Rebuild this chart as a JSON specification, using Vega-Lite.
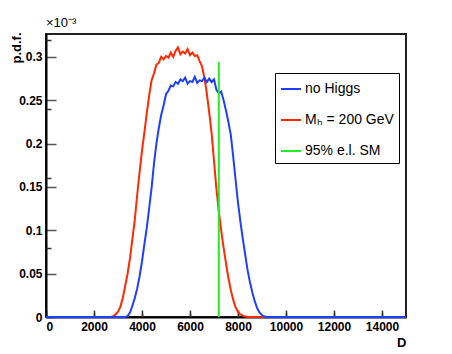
{
  "$schema": "https://vega.github.io/schema/vega-lite/v6.json",
  "width": 360,
  "height": 283,
  "autosize": {"type": "none"},
  "padding": {"left": 46, "top": 34, "right": 46, "bottom": 37},
  "background": "white",
  "config": {
    "view": {"stroke": "#222222", "strokeWidth": 2},
    "font": "Liberation Sans"
  },
  "title": {"text": "×10⁻³", "anchor": "start", "frame": "group", "offset": 2, "fontSize": 13, "fontWeight": "normal", "font": "Liberation Sans", "color": "black"},
  "datasets": {
    "hist": [
      {"series": "red", "D": 0, "pdf": 0},
      {"series": "red", "D": 2700, "pdf": 0},
      {"series": "red", "D": 2800, "pdf": 0.001},
      {"series": "red", "D": 2900, "pdf": 0.003},
      {"series": "red", "D": 3000, "pdf": 0.006},
      {"series": "red", "D": 3100, "pdf": 0.012},
      {"series": "red", "D": 3200, "pdf": 0.022},
      {"series": "red", "D": 3300, "pdf": 0.036},
      {"series": "red", "D": 3400, "pdf": 0.05},
      {"series": "red", "D": 3500, "pdf": 0.068},
      {"series": "red", "D": 3600, "pdf": 0.09},
      {"series": "red", "D": 3700, "pdf": 0.112},
      {"series": "red", "D": 3800, "pdf": 0.141},
      {"series": "red", "D": 3900, "pdf": 0.167},
      {"series": "red", "D": 4000, "pdf": 0.192},
      {"series": "red", "D": 4100, "pdf": 0.213},
      {"series": "red", "D": 4200, "pdf": 0.235},
      {"series": "red", "D": 4300, "pdf": 0.256},
      {"series": "red", "D": 4400, "pdf": 0.273},
      {"series": "red", "D": 4500, "pdf": 0.281},
      {"series": "red", "D": 4600, "pdf": 0.291},
      {"series": "red", "D": 4700, "pdf": 0.293},
      {"series": "red", "D": 4800, "pdf": 0.3},
      {"series": "red", "D": 4900, "pdf": 0.297},
      {"series": "red", "D": 5000, "pdf": 0.301},
      {"series": "red", "D": 5100, "pdf": 0.299},
      {"series": "red", "D": 5200, "pdf": 0.305},
      {"series": "red", "D": 5300, "pdf": 0.3},
      {"series": "red", "D": 5400, "pdf": 0.307},
      {"series": "red", "D": 5500, "pdf": 0.311},
      {"series": "red", "D": 5600, "pdf": 0.303},
      {"series": "red", "D": 5700, "pdf": 0.306},
      {"series": "red", "D": 5800, "pdf": 0.304},
      {"series": "red", "D": 5900, "pdf": 0.309},
      {"series": "red", "D": 6000, "pdf": 0.302},
      {"series": "red", "D": 6100, "pdf": 0.305},
      {"series": "red", "D": 6200, "pdf": 0.301},
      {"series": "red", "D": 6300, "pdf": 0.302},
      {"series": "red", "D": 6400, "pdf": 0.295},
      {"series": "red", "D": 6500, "pdf": 0.289},
      {"series": "red", "D": 6600, "pdf": 0.276},
      {"series": "red", "D": 6700, "pdf": 0.258},
      {"series": "red", "D": 6800, "pdf": 0.236},
      {"series": "red", "D": 6900, "pdf": 0.212},
      {"series": "red", "D": 7000, "pdf": 0.18},
      {"series": "red", "D": 7100, "pdf": 0.148},
      {"series": "red", "D": 7200, "pdf": 0.122},
      {"series": "red", "D": 7300, "pdf": 0.1},
      {"series": "red", "D": 7400, "pdf": 0.08},
      {"series": "red", "D": 7500, "pdf": 0.062},
      {"series": "red", "D": 7600, "pdf": 0.045},
      {"series": "red", "D": 7700, "pdf": 0.031},
      {"series": "red", "D": 7800, "pdf": 0.02},
      {"series": "red", "D": 7900, "pdf": 0.011},
      {"series": "red", "D": 8000, "pdf": 0.006},
      {"series": "red", "D": 8100, "pdf": 0.003},
      {"series": "red", "D": 8200, "pdf": 0.0015},
      {"series": "red", "D": 8300, "pdf": 0.0005},
      {"series": "red", "D": 8400, "pdf": 0},
      {"series": "red", "D": 15000, "pdf": 0},
      {"series": "blue", "D": 0, "pdf": 0},
      {"series": "blue", "D": 3300, "pdf": 0},
      {"series": "blue", "D": 3400, "pdf": 0.001},
      {"series": "blue", "D": 3500, "pdf": 0.005},
      {"series": "blue", "D": 3600, "pdf": 0.013},
      {"series": "blue", "D": 3700, "pdf": 0.022},
      {"series": "blue", "D": 3800, "pdf": 0.033},
      {"series": "blue", "D": 3900, "pdf": 0.047},
      {"series": "blue", "D": 4000, "pdf": 0.064},
      {"series": "blue", "D": 4100, "pdf": 0.084},
      {"series": "blue", "D": 4200, "pdf": 0.103},
      {"series": "blue", "D": 4300, "pdf": 0.126},
      {"series": "blue", "D": 4400, "pdf": 0.149},
      {"series": "blue", "D": 4500, "pdf": 0.177},
      {"series": "blue", "D": 4600, "pdf": 0.2},
      {"series": "blue", "D": 4700, "pdf": 0.218},
      {"series": "blue", "D": 4800, "pdf": 0.233},
      {"series": "blue", "D": 4900, "pdf": 0.244},
      {"series": "blue", "D": 5000, "pdf": 0.257},
      {"series": "blue", "D": 5100, "pdf": 0.261},
      {"series": "blue", "D": 5200, "pdf": 0.267},
      {"series": "blue", "D": 5300, "pdf": 0.266},
      {"series": "blue", "D": 5400, "pdf": 0.271},
      {"series": "blue", "D": 5500, "pdf": 0.269},
      {"series": "blue", "D": 5600, "pdf": 0.274},
      {"series": "blue", "D": 5700, "pdf": 0.272},
      {"series": "blue", "D": 5800, "pdf": 0.276},
      {"series": "blue", "D": 5900, "pdf": 0.269},
      {"series": "blue", "D": 6000, "pdf": 0.272},
      {"series": "blue", "D": 6100, "pdf": 0.271},
      {"series": "blue", "D": 6200, "pdf": 0.277},
      {"series": "blue", "D": 6300, "pdf": 0.27},
      {"series": "blue", "D": 6400, "pdf": 0.273},
      {"series": "blue", "D": 6500, "pdf": 0.272},
      {"series": "blue", "D": 6600, "pdf": 0.276},
      {"series": "blue", "D": 6700, "pdf": 0.271},
      {"series": "blue", "D": 6800, "pdf": 0.275},
      {"series": "blue", "D": 6900, "pdf": 0.271},
      {"series": "blue", "D": 7000, "pdf": 0.274},
      {"series": "blue", "D": 7100, "pdf": 0.262},
      {"series": "blue", "D": 7200, "pdf": 0.258},
      {"series": "blue", "D": 7300, "pdf": 0.26},
      {"series": "blue", "D": 7400, "pdf": 0.25},
      {"series": "blue", "D": 7500, "pdf": 0.238},
      {"series": "blue", "D": 7600, "pdf": 0.225},
      {"series": "blue", "D": 7700, "pdf": 0.21},
      {"series": "blue", "D": 7800, "pdf": 0.185},
      {"series": "blue", "D": 7900, "pdf": 0.158},
      {"series": "blue", "D": 8000, "pdf": 0.132},
      {"series": "blue", "D": 8100, "pdf": 0.11},
      {"series": "blue", "D": 8200, "pdf": 0.09},
      {"series": "blue", "D": 8300, "pdf": 0.072},
      {"series": "blue", "D": 8400, "pdf": 0.054},
      {"series": "blue", "D": 8500, "pdf": 0.04},
      {"series": "blue", "D": 8600, "pdf": 0.028},
      {"series": "blue", "D": 8700, "pdf": 0.018},
      {"series": "blue", "D": 8800, "pdf": 0.01},
      {"series": "blue", "D": 8900, "pdf": 0.005},
      {"series": "blue", "D": 9000, "pdf": 0.002},
      {"series": "blue", "D": 9100, "pdf": 0.0005},
      {"series": "blue", "D": 9200, "pdf": 0},
      {"series": "blue", "D": 15000, "pdf": 0}
    ],
    "limit": [{"D": 7200, "lo": 0, "pdf": 0.294}]
  },
  "layer": [
    {
      "data": {"name": "hist"},
      "transform": [{"filter": "datum.series === 'red'"}],
      "mark": {"type": "line", "interpolate": "linear", "strokeWidth": 2},
      "encoding": {
        "x": {"field": "D", "type": "quantitative", "scale": {"domain": [0, 15000], "nice": false, "zero": false},
          "axis": {"orient": "bottom", "values": [0, 2000, 4000, 6000, 8000, 10000, 12000, 14000], "format": "d", "tickSize": -7, "tickColor": "#333333", "tickWidth": 1.5, "domainColor": "black", "domainWidth": 2, "labelFont": "Liberation Sans", "labelFontWeight": "bold", "labelFontSize": 12, "labelColor": "black", "labelPadding": 11, "grid": false, "title": "D", "titleFont": "Liberation Sans", "titleFontWeight": "bold", "titleFontSize": 13, "titleColor": "black", "titleAnchor": "end", "titleAlign": "right", "titlePadding": 4}},
        "y": {"field": "pdf", "type": "quantitative", "scale": {"domain": [0, 0.3264], "nice": false},
          "axis": {"orient": "left", "values": [0, 0.05, 0.1, 0.15, 0.2, 0.25, 0.3], "format": "~g", "tickSize": -10, "tickColor": "#555555", "tickWidth": 1.5, "domainColor": "black", "domainWidth": 2, "labelFont": "Liberation Sans", "labelFontWeight": "bold", "labelFontSize": 12, "labelColor": "black", "labelPadding": 14, "grid": false, "title": "p.d.f.", "titleFont": "Liberation Sans", "titleFontWeight": "bold", "titleFontSize": 13, "titleColor": "black", "titleAngle": -90, "titleAlign": "right", "titleBaseline": "middle", "titleX": -30, "titleY": -2}},
        "color": {"datum": "Mₕ = 200 GeV", "type": "nominal",
          "scale": {"domain": ["no Higgs", "Mₕ = 200 GeV", "95% e.l. SM"], "range": ["#1f3fff", "#ff2a00", "#22ee22"]},
          "legend": {"orient": "none", "legendX": 229, "legendY": 39, "title": null, "symbolType": "stroke", "symbolSize": 400, "symbolStrokeWidth": 2, "labelFont": "Liberation Sans", "labelFontSize": 14, "labelColor": "black", "labelOffset": 3, "rowPadding": 13, "padding": 5, "strokeColor": "black", "fillColor": "white", "labelLimit": 200}}
      }
    },
    {
      "layer": [
        {
          "data": {"name": "hist"},
          "transform": [{"filter": "datum.series === 'blue'"}],
          "mark": {"type": "line", "interpolate": "linear", "strokeWidth": 2},
          "encoding": {
            "x": {"field": "D", "type": "quantitative",
              "axis": {"orient": "bottom", "values": [0, 500, 1000, 1500, 2000, 2500, 3000, 3500, 4000, 4500, 5000, 5500, 6000, 6500, 7000, 7500, 8000, 8500, 9000, 9500, 10000, 10500, 11000, 11500, 12000, 12500, 13000, 13500, 14000, 14500, 15000], "tickSize": -4, "tickColor": "#333333", "tickWidth": 1.5, "labels": false, "domain": false, "grid": false, "title": null}},
            "y": {"field": "pdf", "type": "quantitative",
              "axis": {"orient": "left", "values": [0, 0.01, 0.02, 0.03, 0.04, 0.05, 0.06, 0.07, 0.08, 0.09, 0.1, 0.11, 0.12, 0.13, 0.14, 0.15, 0.16, 0.17, 0.18, 0.19, 0.2, 0.21, 0.22, 0.23, 0.24, 0.25, 0.26, 0.27, 0.28, 0.29, 0.3, 0.31, 0.32], "tickSize": -5, "tickColor": "#333333", "tickWidth": 1.5, "labels": false, "domain": false, "grid": false, "title": null}},
            "color": {"datum": "no Higgs", "type": "nominal"}
          }
        },
        {
          "data": {"name": "limit"},
          "mark": {"type": "rule", "strokeWidth": 2},
          "encoding": {
            "x": {"field": "D", "type": "quantitative"},
            "y": {"field": "lo", "type": "quantitative"},
            "y2": {"field": "pdf"},
            "color": {"datum": "95% e.l. SM", "type": "nominal"}
          }
        }
      ]
    }
  ],
  "resolve": {"axis": {"x": "independent", "y": "independent"}}
}
